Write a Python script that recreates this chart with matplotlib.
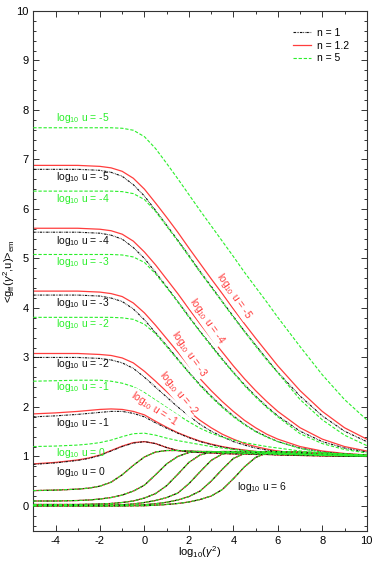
import matplotlib
matplotlib.use('Agg')
import matplotlib.pyplot as plt

plt.rcParams['font.family'] = ['Liberation Sans', 'DejaVu Sans']
plt.rcParams['mathtext.fontset'] = 'custom'
plt.rcParams['mathtext.rm'] = 'Liberation Sans'
plt.rcParams['mathtext.it'] = 'Liberation Sans:italic'
plt.rcParams['axes.unicode_minus'] = False

# x values: log10(gamma^2)
log_gamma2 = [-5, -4, -3, -2.5, -2, -1.5, -1, -0.5, 0, 0.5, 1, 1.5, 2, 2.5, 3,
              3.5, 4, 4.5, 5, 5.5, 6, 7, 8, 9, 10]

# n = 1.2 (red), log10 u = -5 .. 0
red_m5 = [6.88, 6.88, 6.88, 6.87, 6.86, 6.83, 6.76, 6.62, 6.40, 6.12, 5.83, 5.53, 5.21,
          4.90, 4.59, 4.29, 3.98, 3.68, 3.39, 3.11, 2.83, 2.33, 1.91, 1.58, 1.35]
red_m4 = [5.61, 5.61, 5.61, 5.60, 5.59, 5.56, 5.49, 5.35, 5.13, 4.87, 4.58, 4.29, 3.98,
          3.68, 3.39, 3.11, 2.83, 2.57, 2.33, 2.11, 1.91, 1.58, 1.35, 1.20, 1.11]
red_m3 = [4.34, 4.34, 4.34, 4.33, 4.32, 4.29, 4.23, 4.10, 3.90, 3.65, 3.38, 3.11, 2.83,
          2.57, 2.33, 2.11, 1.91, 1.73, 1.58, 1.45, 1.35, 1.20, 1.11, 1.06, 1.03]
red_m2 = [3.08, 3.08, 3.08, 3.07, 3.06, 3.04, 2.99, 2.89, 2.72, 2.52, 2.31, 2.10, 1.91,
          1.73, 1.58, 1.45, 1.35, 1.26, 1.20, 1.15, 1.11, 1.06, 1.03, 1.02, 1.01]
red_m1 = [1.86, 1.88, 1.91, 1.93, 1.95, 1.96, 1.95, 1.91, 1.84, 1.71, 1.59, 1.48, 1.39,
          1.31, 1.25, 1.20, 1.16, 1.13, 1.10, 1.08, 1.06, 1.04, 1.02, 1.01, 1.00]
red_0 = [0.85, 0.88, 0.93, 0.97, 1.03, 1.12, 1.21, 1.28, 1.30, 1.26, 1.18, 1.12, 1.09,
         1.08, 1.07, 1.06, 1.05, 1.05, 1.04, 1.04, 1.03, 1.02, 1.01, 1.01, 1.00]

# n = 1 (black)
blk_m5 = [6.80, 6.80, 6.80, 6.79, 6.78, 6.74, 6.66, 6.49, 6.26, 5.97, 5.67, 5.37, 5.06,
          4.74, 4.44, 4.13, 3.83, 3.53, 3.25, 2.97, 2.70, 2.22, 1.82, 1.51, 1.30]
blk_m4 = [5.53, 5.53, 5.53, 5.52, 5.51, 5.47, 5.39, 5.22, 5.00, 4.72, 4.43, 4.13, 3.83,
          3.53, 3.25, 2.97, 2.70, 2.45, 2.22, 2.01, 1.82, 1.51, 1.30, 1.17, 1.09]
blk_m3 = [4.26, 4.26, 4.26, 4.25, 4.24, 4.20, 4.13, 3.98, 3.76, 3.50, 3.24, 2.97, 2.70,
          2.45, 2.22, 2.01, 1.82, 1.65, 1.51, 1.40, 1.30, 1.17, 1.09, 1.05, 1.03]
blk_m2 = [3.00, 3.00, 3.00, 2.99, 2.98, 2.95, 2.89, 2.78, 2.60, 2.40, 2.20, 2.00, 1.82,
          1.65, 1.51, 1.40, 1.30, 1.23, 1.17, 1.13, 1.09, 1.05, 1.03, 1.01, 1.01]
blk_m1 = [1.80, 1.82, 1.85, 1.87, 1.89, 1.91, 1.91, 1.87, 1.80, 1.68, 1.57, 1.47, 1.38,
          1.30, 1.24, 1.19, 1.15, 1.12, 1.09, 1.07, 1.06, 1.03, 1.02, 1.01, 1.00]
blk_0 = [0.84, 0.87, 0.92, 0.96, 1.02, 1.11, 1.20, 1.27, 1.30, 1.26, 1.18, 1.12, 1.09,
         1.08, 1.07, 1.06, 1.05, 1.05, 1.04, 1.04, 1.03, 1.02, 1.01, 1.01, 1.00]

# n = 5 (green)
grn_m5 = [7.64, 7.64, 7.64, 7.64, 7.64, 7.64, 7.63, 7.59, 7.46, 7.22, 6.92, 6.61, 6.29,
          5.97, 5.66, 5.35, 5.04, 4.72, 4.42, 4.12, 3.81, 3.22, 2.65, 2.15, 1.74]
grn_m4 = [6.36, 6.36, 6.36, 6.36, 6.36, 6.36, 6.35, 6.31, 6.19, 5.95, 5.65, 5.35, 5.04,
          4.72, 4.42, 4.12, 3.81, 3.52, 3.23, 2.95, 2.69, 2.15, 1.74, 1.43, 1.22]
grn_m3 = [5.08, 5.08, 5.08, 5.08, 5.08, 5.08, 5.07, 5.03, 4.92, 4.69, 4.41, 4.12, 3.81,
          3.52, 3.23, 2.95, 2.69, 2.43, 2.20, 1.99, 1.80, 1.46, 1.26, 1.14, 1.07]
grn_m2 = [3.81, 3.81, 3.81, 3.81, 3.81, 3.81, 3.80, 3.77, 3.67, 3.48, 3.22, 2.95, 2.69,
          2.43, 2.20, 1.99, 1.80, 1.64, 1.50, 1.39, 1.30, 1.16, 1.08, 1.04, 1.02]
grn_m1 = [2.52, 2.53, 2.54, 2.54, 2.54, 2.52, 2.48, 2.41, 2.29, 2.14, 1.99, 1.84, 1.70,
          1.57, 1.47, 1.39, 1.33, 1.28, 1.24, 1.20, 1.17, 1.11, 1.07, 1.05, 1.03]
grn_0 = [1.20, 1.21, 1.23, 1.25, 1.28, 1.33, 1.40, 1.46, 1.47, 1.43, 1.37, 1.32, 1.28,
         1.24, 1.20, 1.17, 1.14, 1.12, 1.10, 1.08, 1.07, 1.05, 1.03, 1.02, 1.01]

# log10 u = 1 .. 6, practically the same for all n
rise_1 = [0.31, 0.32, 0.34, 0.36, 0.40, 0.48, 0.63, 0.82, 0.99, 1.09, 1.12, 1.12, 1.11,
          1.10, 1.09, 1.08, 1.07, 1.06, 1.05, 1.05, 1.04, 1.03, 1.02, 1.01, 1.01]
rise_2 = [0.10, 0.10, 0.11, 0.12, 0.14, 0.17, 0.22, 0.30, 0.42, 0.63, 0.85, 1.00, 1.08,
          1.10, 1.10, 1.09, 1.08, 1.07, 1.06, 1.06, 1.05, 1.04, 1.03, 1.02, 1.01]
rise_3 = [0.03, 0.03, 0.03, 0.035, 0.04, 0.05, 0.07, 0.10, 0.16, 0.25, 0.41, 0.64, 0.88,
          1.03, 1.09, 1.10, 1.10, 1.09, 1.08, 1.07, 1.06, 1.05, 1.03, 1.02, 1.01]
rise_4 = [0.01, 0.01, 0.01, 0.01, 0.015, 0.02, 0.025, 0.04, 0.07, 0.11, 0.17, 0.26, 0.45,
          0.69, 0.92, 1.05, 1.09, 1.10, 1.10, 1.09, 1.08, 1.06, 1.04, 1.03, 1.02]
rise_5 = [0.003, 0.003, 0.003, 0.003, 0.003, 0.004, 0.006, 0.012, 0.025, 0.045, 0.075, 0.12,
          0.19, 0.30, 0.50, 0.74, 0.96, 1.06, 1.09, 1.10, 1.10, 1.08, 1.06, 1.04, 1.02]
rise_6 = [0.001, 0.001, 0.001, 0.001, 0.001, 0.001, 0.002, 0.003, 0.005, 0.015, 0.03, 0.05,
          0.08, 0.13, 0.20, 0.33, 0.55, 0.79, 0.98, 1.07, 1.10, 1.09, 1.07, 1.05, 1.02]

red_curves = [red_m5, red_m4, red_m3, red_m2, red_m1, red_0]
blk_curves = [blk_m5, blk_m4, blk_m3, blk_m2, blk_m1, blk_0]
grn_curves = [grn_m5, grn_m4, grn_m3, grn_m2, grn_m1, grn_0]
rise_curves = [rise_1, rise_2, rise_3, rise_4, rise_5, rise_6]

# label texts and where they sit
left_labels_grn = ['-5', '-4', '-3', '-2', '-1', '0']
left_labels_grn_y = [7.83, 6.20, 4.92, 3.67, 2.41, 1.07]
left_labels_blk = ['-5', '-4', '-3', '-2', '-1', '0']
left_labels_blk_y = [6.65, 5.35, 4.11, 2.86, 1.67, 0.69]
red_labels = ['-5', '-4', '-3', '-2', '-1']
red_labels_x = [4.03, 2.83, 2.0, 1.53, 0.45]
red_labels_y = [4.25, 3.74, 3.07, 2.28, 1.97]
red_labels_rot = [-55, -55, -55, -50, -33]

RED = '#ff3d3d'
GRN = '#2bef2b'
BLK = '#111111'
blk_style = (0, (2.2, 0.8, 0.6, 0.8, 0.6, 0.8))
grn_style = (0, (3.0, 1.6))

fig = plt.figure(figsize=(3.74, 5.61), dpi=100)
ax = fig.add_axes([0.089, 0.054, 0.8916, 0.9265])

for i, c in enumerate(red_curves):
    ax.plot(log_gamma2, c, color=RED, lw=0.9, label='n = 1.2' if i == 0 else None, zorder=2)
for c in rise_curves:
    ax.plot(log_gamma2, c, color=RED, lw=0.9, zorder=2)
for i, c in enumerate(blk_curves):
    ax.plot(log_gamma2, c, color=BLK, lw=0.8, ls=blk_style,
            label='n = 1' if i == 0 else None, zorder=3)
for c in rise_curves:
    ax.plot(log_gamma2, c, color=BLK, lw=0.8, ls=blk_style, zorder=3)
for i, c in enumerate(grn_curves):
    ax.plot(log_gamma2, c, color=GRN, lw=0.8, ls=grn_style,
            label='n = 5' if i == 0 else None, zorder=4)
for c in rise_curves:
    ax.plot(log_gamma2, c, color=GRN, lw=0.8, ls=grn_style, zorder=4)

for lab, y in zip(left_labels_grn, left_labels_grn_y):
    ax.text(-3.97, y, r'log$_{10}$ u = ' + lab, color=GRN, fontsize=7.5, va='center')
for lab, y in zip(left_labels_blk, left_labels_blk_y):
    ax.text(-3.97, y, r'log$_{10}$ u = ' + lab, color=BLK, fontsize=7.5, va='center')
ax.text(4.18, 0.39, r'log$_{10}$ u = 6', color=BLK, fontsize=7.5, va='center')
for lab, x, y, r in zip(red_labels, red_labels_x, red_labels_y, red_labels_rot):
    ax.text(x, y, r'log$_{10}$ u = ' + lab, color=RED, fontsize=7.5, rotation=r,
            rotation_mode='anchor', ha='center', va='center', zorder=6,
            bbox=dict(facecolor='white', edgecolor='none', pad=0.3))

ax.set_xlim(-5, 10)
ax.set_ylim(-0.5, 10)
ax.set_xticks([-4, -2, 0, 2, 4, 6, 8, 10])
ax.set_xticks(range(-5, 11), minor=True)
ax.set_yticks(range(0, 11))
ax.set_yticks([i * 0.2 for i in range(-2, 51)], minor=True)
ax.tick_params(which='both', direction='in', top=True, right=True, labelsize=8,
               width=0.7, colors='#333333', labelcolor='black')
ax.tick_params(which='major', length=4)
ax.tick_params(which='minor', length=2.2)
for s in ax.spines.values():
    s.set_linewidth(0.8)
    s.set_color('#333333')

ax.set_xlabel(r'log$_{10}$($\gamma^2$)', fontsize=8)
ax.set_ylabel(r'<g$_{\rm ff}$($\gamma^2$,u)>$_{\rm em}$', fontsize=8)
ax.xaxis.set_label_coords(0.5, -0.026)
ax.yaxis.set_label_coords(-0.05, 0.5)

# legend in the order n = 1, n = 1.2, n = 5
handles, labels = ax.get_legend_handles_labels()
order = [labels.index('n = 1'), labels.index('n = 1.2'), labels.index('n = 5')]
ax.legend([handles[k] for k in order], [labels[k] for k in order],
          loc='upper right', bbox_to_anchor=(0.975, 0.985), frameon=False, fontsize=7.5,
          handlelength=1.7, handletextpad=0.6, labelspacing=0.25)

fig.savefig('out.png', dpi=100)
